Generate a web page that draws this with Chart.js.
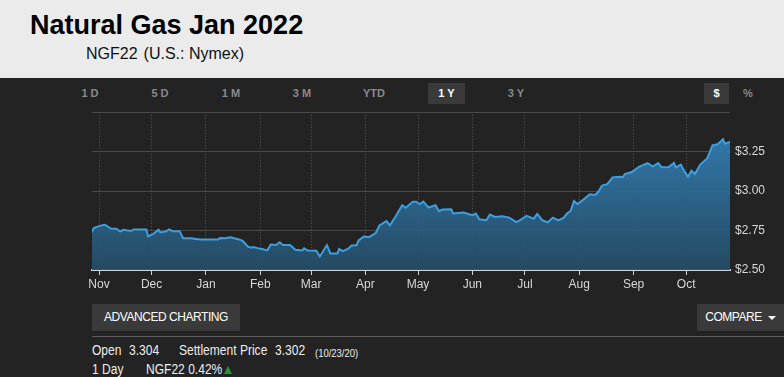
<!DOCTYPE html>
<html>
<head>
<meta charset="utf-8">
<script src="https://cdn.jsdelivr.net/npm/chart.js@4"></script>
<style>
  html, body { margin: 0; padding: 0; }
  body { width: 784px; height: 377px; background: #232323; position: relative; overflow: hidden;
         font-family: "Liberation Sans", Arial, Helvetica, sans-serif; }
  .head { position: absolute; left: 0; top: 0; width: 784px; height: 78px; background: #ebebeb; }
  .title { position: absolute; left: 30px; top: 11px; font-size: 27px; line-height: 28px; font-weight: bold; color: #000; }
  .sub { position: absolute; left: 86px; top: 46px; font-size: 16px; line-height: 16px; color: #111; }
  .sub span + span { margin-left: 6px; }
  .rng { position: absolute; top: 83px; height: 21px; line-height: 21px; font-size: 11px; font-weight: bold;
         color: #8a8a8a; text-align: center; }
  .rng.on { background: #3a3a3a; color: #fff; }
  .btn { position: absolute; top: 304px; height: 27px; line-height: 27px; background: #3a3a3a; color: #fff;
         font-size: 12px; letter-spacing: -0.45px; text-align: center; }
  .caret { display: inline-block; width: 0; height: 0; margin-left: 6px; vertical-align: middle;
           border-left: 4px solid transparent; border-right: 4px solid transparent; border-top: 4px solid #fff; }
  .sep { position: absolute; left: 92px; top: 336px; width: 692px; height: 1px; background: #5e5e5e; }
  .t { position: absolute; font-size: 14px; line-height: 14px; color: #ececec; white-space: pre;
       transform: scaleX(0.86); transform-origin: left top; }
  .t.s { font-size: 11px; }
  .up { position: absolute; left: 224px; top: 366px; width: 0; height: 0;
        border-left: 4px solid transparent; border-right: 4px solid transparent; border-bottom: 8px solid #1f9a2a; }
  #chart { position: absolute; left: 0; top: 100px; }
</style>
</head>
<body>
<div class="head">
  <div class="title">Natural Gas Jan 2022</div>
  <div class="sub"><span>NGF22</span><span>(U.S.: Nymex)</span></div>
</div>

<div class="rng" style="left:80px;width:20px">1 D</div>
<div class="rng" style="left:150px;width:20px">5 D</div>
<div class="rng" style="left:220px;width:22px">1 M</div>
<div class="rng" style="left:291px;width:22px">3 M</div>
<div class="rng" style="left:362px;width:24px">YTD</div>
<div class="rng on" style="left:428px;width:37px">1 Y</div>
<div class="rng" style="left:506px;width:20px">3 Y</div>
<div class="rng on" style="left:704px;width:25px">$</div>
<div class="rng" style="left:741px;width:14px">%</div>

<canvas id="chart" width="784" height="196"></canvas>

<div class="btn" style="left:92px;width:148px">ADVANCED CHARTING</div>
<div class="btn" style="left:697px;width:87px">COMPARE<span class="caret"></span></div>
<div class="sep"></div>
<div class="t" style="left:92px;top:343px">Open</div>
<div class="t" style="left:129px;top:343px">3.304</div>
<div class="t" style="left:179px;top:343px">Settlement Price</div>
<div class="t" style="left:275px;top:343px">3.302</div>
<div class="t s" style="left:315px;top:346px">(10/23/20)</div>
<div class="t" style="left:92px;top:362px">1 Day</div>
<div class="t" style="left:146px;top:362px">NGF22 0.42%</div>
<div class="up"></div>

<script>
// 天数：以 2019-11-01 为 0
const days = [
    -4, -3, 0, 3, 4, 7, 10, 12, 14, 18, 20, 27, 28, 31, 34, 35, 38, 40, 42, 46,
    48, 52, 58, 63, 68, 69, 72, 75, 77, 79, 82, 85, 87, 88, 91, 93, 96, 98, 101, 103,
    105, 109, 112, 116, 117, 119, 124, 126, 130, 132, 136, 137, 139, 142, 144, 147, 148, 151, 154, 158,
    160, 164, 166, 169, 173, 175, 179, 181, 183, 185, 188, 192, 194, 196, 201, 202, 208, 213, 215, 217,
    221, 223, 226, 230, 234, 238, 240, 244, 248, 250, 253, 256, 259, 262, 265, 267, 269, 271, 273, 276,
    280, 283, 285, 287, 290, 293, 297, 299, 300, 304, 308, 313, 316, 319, 321, 325, 328, 329, 332, 334,
    336, 338, 340, 343, 347, 350, 353, 356, 357, 360
];
const prices = [
    2.740, 2.766, 2.778, 2.787, 2.783, 2.761, 2.761, 2.744, 2.755, 2.748, 2.757, 2.757, 2.714, 2.729, 2.755, 2.738, 2.744, 2.757, 2.746, 2.746,
    2.701, 2.701, 2.693, 2.693, 2.693, 2.703, 2.701, 2.708, 2.701, 2.697, 2.684, 2.648, 2.641, 2.646, 2.637, 2.633, 2.624, 2.661, 2.658, 2.676,
    2.658, 2.658, 2.628, 2.624, 2.637, 2.624, 2.622, 2.586, 2.658, 2.605, 2.605, 2.633, 2.620, 2.633, 2.654, 2.658, 2.686, 2.712, 2.708, 2.736,
    2.783, 2.810, 2.783, 2.836, 2.911, 2.894, 2.933, 2.933, 2.918, 2.933, 2.896, 2.911, 2.873, 2.883, 2.885, 2.858, 2.864, 2.847, 2.858, 2.821,
    2.815, 2.851, 2.836, 2.840, 2.832, 2.804, 2.815, 2.843, 2.825, 2.855, 2.815, 2.802, 2.832, 2.815, 2.830, 2.858, 2.873, 2.937, 2.918, 2.943,
    2.980, 2.975, 2.997, 3.035, 3.044, 3.087, 3.091, 3.089, 3.108, 3.121, 3.153, 3.177, 3.155, 3.177, 3.151, 3.153, 3.179, 3.151, 3.168, 3.125,
    3.091, 3.130, 3.108, 3.168, 3.207, 3.290, 3.297, 3.329, 3.301, 3.312
];
const monthDays = [0, 30, 61, 92, 121, 152, 182, 213, 243, 274, 305, 335];
const monthLabels = ['Nov', 'Dec', 'Jan', 'Feb', 'Mar', 'Apr', 'May', 'Jun', 'Jul', 'Aug', 'Sep', 'Oct'];
const priceTicks = [2.5, 2.75, 3.0, 3.25, 3.5];

const font = { family: '"Liberation Sans", Arial, sans-serif', size: 12 };

new Chart(document.getElementById('chart'), {
    type: 'line',
    data: {
        datasets: [{
            data: days.map((d, i) => ({ x: d, y: prices[i] })),
            borderColor: '#3d9fe0',
            borderWidth: 2,
            pointRadius: 0,
            tension: 0,
            fill: 'start',
            backgroundColor: function(context) {
                const chart = context.chart;
                const area = chart.chartArea;
                if (!area) return 'rgba(47,120,170,0.9)';
                const g = chart.ctx.createLinearGradient(0, area.top, 0, area.bottom);
                g.addColorStop(0, 'rgba(54,137,196,0.92)');
                g.addColorStop(1, 'rgba(38,78,104,0.92)');
                return g;
            }
        }]
    },
    options: {
        responsive: false,
        animation: false,
        devicePixelRatio: 1,
        layout: { padding: { left: 92, top: 4, right: 0, bottom: 0 } },
        plugins: { legend: { display: false }, tooltip: { enabled: false } },
        scales: {
            x: {
                type: 'linear',
                min: -4,
                max: 360,
                afterBuildTicks: axis => { axis.ticks = monthDays.map(v => ({ value: v })); },
                afterFit: axis => { axis.height = 26; },
                ticks: {
                    autoSkip: false,
                    maxRotation: 0,
                    padding: 2,
                    color: '#d8d8d8',
                    font: font,
                    callback: value => monthLabels[monthDays.indexOf(value)]
                },
                grid: {
                    color: '#5a5a5a',
                    lineWidth: 1,
                    tickLength: 5,
                    tickColor: '#c9d6e0',
                    tickWidth: 1,
                    tickBorderDash: []
                },
                border: { color: '#c9d6e0', width: 2, dash: [1, 2] }
            },
            y: {
                position: 'right',
                min: 2.5,
                max: 3.5,
                afterBuildTicks: axis => { axis.ticks = priceTicks.map(v => ({ value: v })); },
                afterFit: axis => { axis.width = 54; },
                ticks: {
                    padding: 5,
                    color: '#d8d8d8',
                    font: font,
                    callback: value => value >= 3.5 ? '' : '$' + value.toFixed(2)
                },
                grid: { color: '#4a4a4a', lineWidth: 1, drawTicks: false },
                border: { display: false }
            }
        }
    }
});
</script>
</body>
</html>
